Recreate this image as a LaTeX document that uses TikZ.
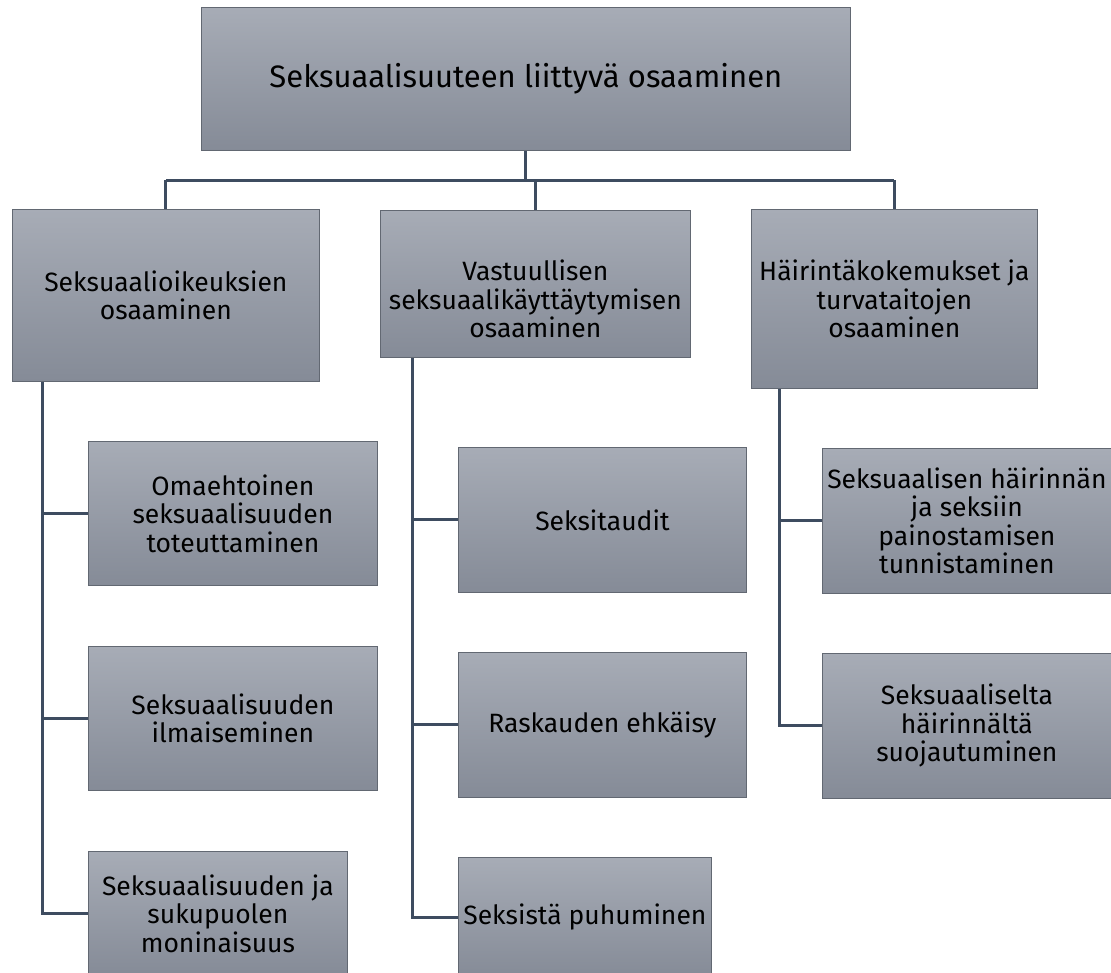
\documentclass[tikz,border=0pt]{standalone}
\usepackage{fontspec}
\setmainfont{Fira Sans}
\usetikzlibrary{calc}
\definecolor{boxtop}{RGB}{167,172,182}
\definecolor{boxbot}{RGB}{133,139,151}
\definecolor{boxline}{RGB}{98,104,114}
\definecolor{conn}{RGB}{62,76,96}
\begin{document}
\begin{tikzpicture}[x=1pt,y=-1pt,
  box/.style={draw=boxline, line width=0.8pt, top color=boxtop, bottom color=boxbot,
    anchor=north west, align=center, inner sep=1pt, text=black,
    font=\fontsize{26.5}{28.5}\selectfont},
  txt/.style={align=center, inner sep=0pt, text=black, font=\fontsize{26.5}{28.5}\selectfont},
  conn/.style={draw=conn, line width=3pt}]
\useasboundingbox (0,0) rectangle (1111,972);
\node[box, minimum width=649pt, minimum height=143pt, font=\fontsize{31}{36}\selectfont] (top) at (201,7) {Seksuaalisuuteen liittyvä osaaminen};
\node[box, minimum width=307pt, minimum height=172pt] (L) at (12,209) {Seksuaalioikeuksien\\osaaminen};
\node[box, minimum width=310pt, minimum height=147pt] (M) at (380,210) {};
\node[txt] (Mtext) at ($(M.center)+(0,15)$) {Vastuullisen\\seksuaalikäyttäytymisen\\osaaminen};
\node[box, minimum width=286pt, minimum height=179pt] (R) at (751,209) {Häirintäkokemukset ja\\turvataitojen\\osaaminen};
\node[box, minimum width=289pt, minimum height=144pt] (L1) at (88,441) {Omaehtoinen\\seksuaalisuuden\\toteuttaminen};
\node[box, minimum width=289pt, minimum height=144pt] (L2) at (88,646) {Seksuaalisuuden\\ilmaiseminen};
\node[box, minimum width=259pt, minimum height=124pt] (L3) at (88,851) {Seksuaalisuuden ja\\sukupuolen\\moninaisuus};
\node[box, minimum width=288pt, minimum height=145pt] (M1) at (458,447) {Seksitaudit};
\node[box, minimum width=288pt, minimum height=145pt] (M2) at (458,652) {Raskauden ehkäisy};
\node[box, minimum width=253pt, minimum height=120pt] (M3) at (458,857) {Seksistä puhuminen};
\node[box, minimum width=289pt, minimum height=145pt] (R1) at (822,448) {Seksuaalisen häirinnän\\ja seksiin\\painostamisen\\tunnistaminen};
\node[box, minimum width=289pt, minimum height=145pt] (R2) at (822,653) {Seksuaaliselta\\häirinnältä\\suojautuminen};
% bus
\coordinate (bus) at (0,180);
\draw[conn] (top.south) -- (top.south |- bus);
\draw[conn] (L.north |- bus) -- (R.north |- bus);
\draw[conn] (L.north |- bus) -- (L.north);
\draw[conn] (M.north |- bus) -- (M.north);
\draw[conn] (R.north |- bus) -- (R.north);
% trunks
\coordinate (Lt) at ($(L.south west)+(30,0)$);
\coordinate (Mt) at ($(M.south west)+(32,0)$);
\coordinate (Rt) at ($(R.south west)+(28,0)$);
\draw[conn] (Lt) -- (Lt |- L3.west) -- (L3.west);
\draw[conn] (Lt |- L1.west) -- (L1.west);
\draw[conn] (Lt |- L2.west) -- (L2.west);
\draw[conn] (Mt) -- (Mt |- M3.west) -- (M3.west);
\draw[conn] (Mt |- M1.west) -- (M1.west);
\draw[conn] (Mt |- M2.west) -- (M2.west);
\draw[conn] (Rt) -- (Rt |- R2.west) -- (R2.west);
\draw[conn] (Rt |- R1.west) -- (R1.west);
\end{tikzpicture}
\end{document}
